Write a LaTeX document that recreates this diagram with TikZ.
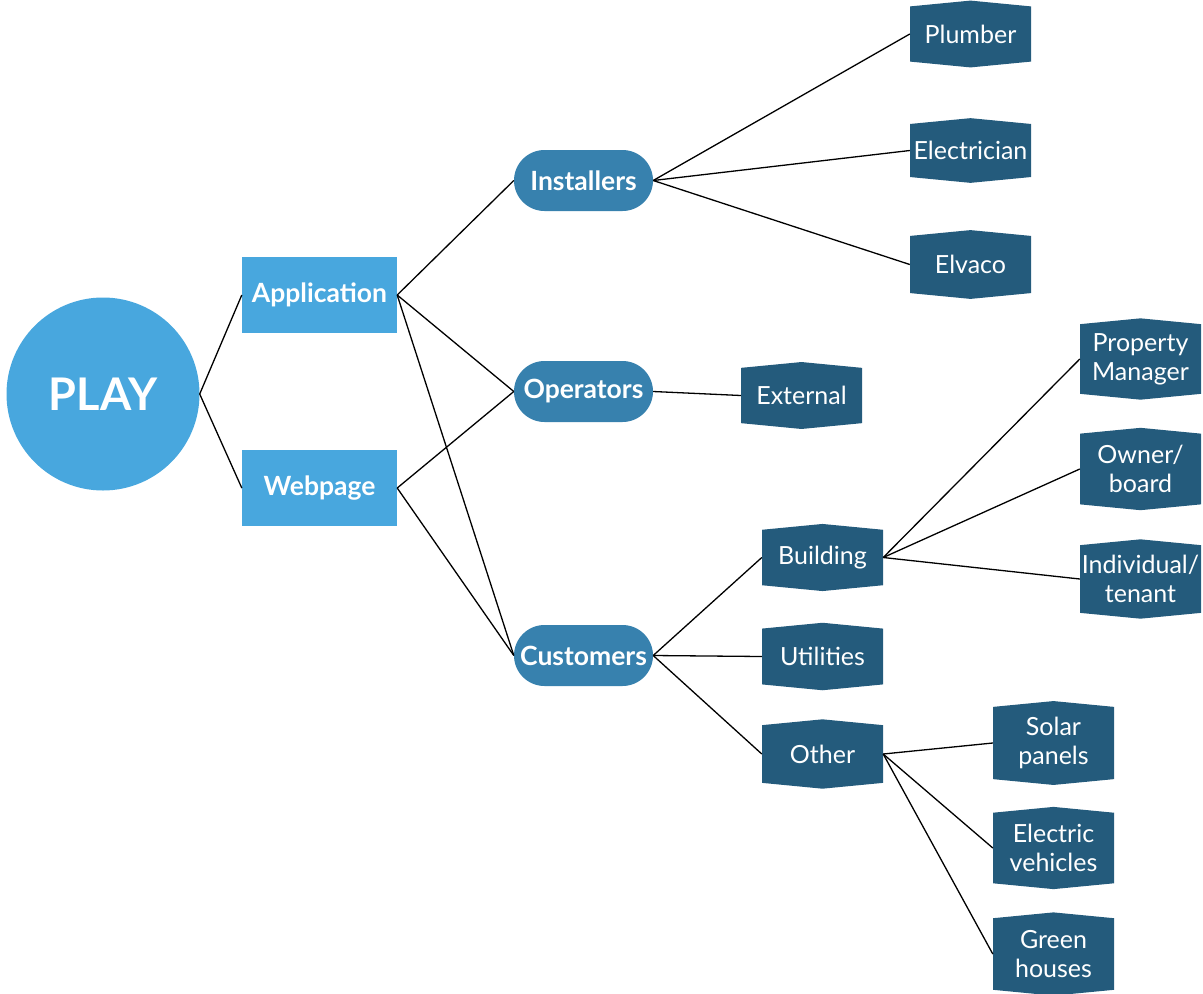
\documentclass[tikz,border=0pt]{standalone}
\usepackage{fontspec}
\setmainfont{Lato}
\usepackage{tikz}
\usetikzlibrary{shapes.misc,shapes.symbols}
\definecolor{lightblue}{HTML}{48A7DE}
\definecolor{midblue}{HTML}{3781AE}
\definecolor{darkblue}{HTML}{245B7C}

\begin{document}
\begin{tikzpicture}[x=1pt,y=-1pt,
  root/.style={circle,fill=lightblue,text=white,minimum size=193pt,inner sep=0pt,font=\fontsize{45}{49}\selectfont\bfseries},
  hub/.style={rectangle,fill=lightblue,text=white,minimum width=155pt,minimum height=76pt,inner sep=0pt,font=\fontsize{26.5}{30}\selectfont\bfseries},
  grp/.style={rounded rectangle,fill=midblue,text=white,minimum width=139pt,minimum height=61pt,inner sep=0pt,font=\fontsize{26.5}{30}\selectfont\bfseries},
  leaf/.style={signal,signal to=north and south,signal pointer angle=169,fill=darkblue,text=white,minimum width=121pt,minimum height=64pt,inner sep=0pt,align=center,font=\fontsize{25}{29}\selectfont},
  tall/.style={minimum height=79pt},
  edge/.style={black,line width=1.3pt}]
\useasboundingbox (0,0) rectangle (1203,994);
% nodes
\node[root] (play) at (103,394) {PLAY};
\node[hub] (app) at (319.5,295) {Application};
\node[hub] (web) at (319.5,488) {Webpage};
\node[grp] (inst) at (583.5,180.5) {Installers};
\node[grp] (oper) at (583.5,391.5) {Operators};
\node[grp] (cust) at (583.5,655.5) {Customers};
\node[leaf] (plumb) at (970.5,34) {Plumber};
\node[leaf] (elec) at (970.5,150.5) {Electrician};
\node[leaf] (elva) at (970.5,264.5) {Elvaco};
\node[leaf] (ext) at (801.5,395.5) {External};
\node[leaf] (bld) at (822.5,557.5) {Building};
\node[leaf] (util) at (822.5,656.5) {Utilities};
\node[leaf] (oth) at (822.5,754) {Other};
\node[leaf,tall] (prop) at (1140.5,359) {Property\\Manager};
\node[leaf,tall] (own) at (1140.5,469) {Owner/\\board};
\node[leaf,tall] (indiv) at (1140.5,579) {Individual/\\tenant};
\node[leaf,tall] (solar) at (1053.5,743) {Solar\\panels};
\node[leaf,tall] (ev) at (1053.5,848) {Electric\\vehicles};
\node[leaf,tall] (green) at (1053.5,954) {Green\\houses};
% edges
\draw[edge] (play.east)--(app.west);
\draw[edge] (play.east)--(web.west);
\draw[edge] (app.east)--(inst.west);
\draw[edge] (app.east)--(oper.west);
\draw[edge] (app.east)--(cust.west);
\draw[edge] (web.east)--(oper.west);
\draw[edge] (web.east)--(cust.west);
\draw[edge] (inst.east)--(plumb.west);
\draw[edge] (inst.east)--(elec.west);
\draw[edge] (inst.east)--(elva.west);
\draw[edge] (oper.east)--(ext.west);
\draw[edge] (cust.east)--(bld.west);
\draw[edge] (cust.east)--(util.west);
\draw[edge] (cust.east)--(oth.west);
\draw[edge] (bld.east)--(prop.west);
\draw[edge] (bld.east)--(own.west);
\draw[edge] (bld.east)--(indiv.west);
\draw[edge] (oth.east)--(solar.west);
\draw[edge] (oth.east)--(ev.west);
\draw[edge] (oth.east)--(green.west);
\end{tikzpicture}
\end{document}
